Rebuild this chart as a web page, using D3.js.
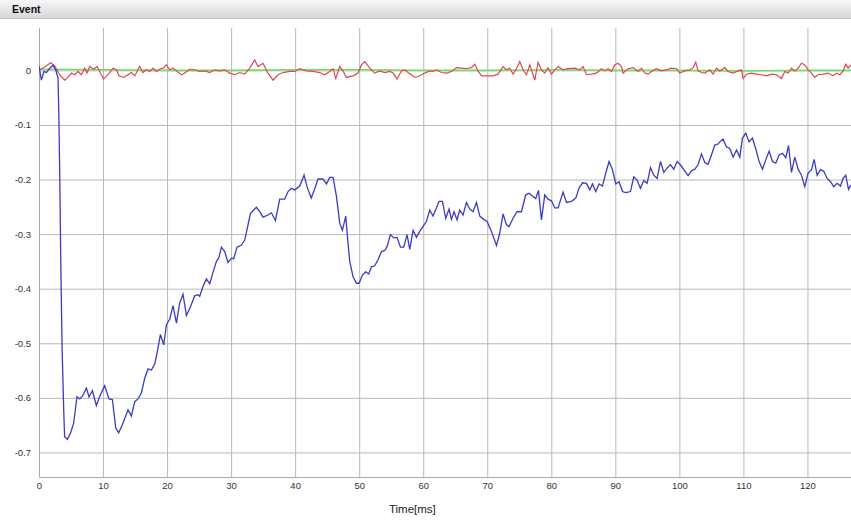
<!DOCTYPE html>
<html>
<head>
<meta charset="utf-8">
<script src="https://cdn.jsdelivr.net/npm/d3@7"></script>
<style>
  body { margin: 0; background: #fff; }
  svg { display: block; font-family: "Liberation Sans", Arial, sans-serif; }
</style>
</head>
<body>
<script>
// Tick values
var xTicks = [0, 10, 20, 30, 40, 50, 60, 70, 80, 90, 100, 110, 120];
var yTicks = [0, -0.1, -0.2, -0.3, -0.4, -0.5, -0.6, -0.7];

// Blue trace: [time ms, value]
var blueSeries = [
  [0, 0.008], [0.37, -0.018], [0.78, -0.002], [1.16, -0.004], [1.67, 0.004], [2.19, 0.009], [2.61, 0.001],
  [2.97, -0.014], [3.1, -0.08], [3.25, -0.2], [3.4, -0.35], [3.6, -0.506], [3.87, -0.627], [4.0, -0.671],
  [4.43, -0.676], [4.95, -0.664], [5.42, -0.646], [5.93, -0.598], [6.36, -0.602], [6.78, -0.597], [7.4, -0.582],
  [7.81, -0.598], [8.34, -0.587], [8.96, -0.614], [9.48, -0.597], [10.26, -0.578], [10.93, -0.602], [11.46, -0.603],
  [11.98, -0.655], [12.45, -0.664], [13.03, -0.649], [13.9, -0.622], [14.43, -0.633], [14.95, -0.607], [15.46, -0.602],
  [15.99, -0.591], [16.51, -0.564], [17.02, -0.547], [17.55, -0.549], [18.07, -0.538], [18.43, -0.518], [18.96, -0.484],
  [19.48, -0.503], [19.9, -0.466], [20.41, -0.456], [20.93, -0.431], [21.46, -0.463], [21.97, -0.426], [22.49, -0.41],
  [23.02, -0.449], [23.65, -0.433], [24.32, -0.413], [24.83, -0.411], [25.1, -0.414], [25.61, -0.396], [26.14, -0.382],
  [26.66, -0.391], [27.17, -0.37], [27.71, -0.35], [28.06, -0.344], [28.49, -0.324], [29.0, -0.332], [29.52, -0.352],
  [30.05, -0.344], [30.41, -0.345], [30.92, -0.324], [31.61, -0.32], [32.13, -0.311], [32.64, -0.283], [33.02, -0.262],
  [33.95, -0.251], [34.47, -0.259], [34.98, -0.269], [35.76, -0.265], [36.3, -0.261], [36.92, -0.275], [37.59, -0.236],
  [38.37, -0.236], [38.89, -0.222], [39.42, -0.216], [39.93, -0.219], [40.72, -0.212], [41.39, -0.192], [41.86, -0.213],
  [42.51, -0.234], [43.06, -0.217], [43.57, -0.199], [44.35, -0.199], [44.89, -0.208], [45.4, -0.196], [45.92, -0.196],
  [46.45, -0.231], [46.96, -0.28], [47.38, -0.293], [47.9, -0.267], [48.26, -0.317], [48.52, -0.35], [49.04, -0.378],
  [49.57, -0.39], [49.98, -0.39], [50.51, -0.375], [51.02, -0.369], [51.49, -0.373], [51.91, -0.36], [52.43, -0.358],
  [52.94, -0.347], [53.48, -0.332], [53.99, -0.33], [54.35, -0.323], [54.88, -0.301], [55.4, -0.307], [55.91, -0.306],
  [56.44, -0.324], [56.96, -0.324], [57.47, -0.301], [57.9, -0.328], [58.41, -0.293], [58.94, -0.306], [59.46, -0.295],
  [60.08, -0.284], [60.5, -0.277], [61.02, -0.256], [61.53, -0.267], [62.06, -0.252], [62.47, -0.24], [63.0, -0.24],
  [63.52, -0.271], [64.03, -0.254], [64.41, -0.273], [64.81, -0.259], [65.28, -0.274], [65.7, -0.256], [66.22, -0.265],
  [66.75, -0.242], [67.26, -0.254], [67.78, -0.259], [68.31, -0.242], [68.83, -0.267], [69.45, -0.273], [69.97, -0.277],
  [70.65, -0.295], [71.44, -0.321], [71.95, -0.298], [72.47, -0.263], [73.0, -0.283], [73.4, -0.286], [74.03, -0.271],
  [74.65, -0.259], [75.34, -0.259], [76.01, -0.228], [76.53, -0.225], [77.15, -0.231], [77.57, -0.235], [78.0, -0.22],
  [78.46, -0.274], [78.98, -0.228], [79.49, -0.236], [80.02, -0.239], [80.54, -0.252], [81.06, -0.252], [81.84, -0.223],
  [82.37, -0.242], [83.15, -0.24], [83.82, -0.234], [84.33, -0.216], [84.87, -0.206], [85.49, -0.207], [86.01, -0.219],
  [86.43, -0.208], [86.94, -0.222], [87.46, -0.208], [87.99, -0.212], [88.51, -0.188], [89.02, -0.167], [89.55, -0.182],
  [90.07, -0.208], [90.58, -0.204], [91.11, -0.222], [91.63, -0.224], [92.36, -0.222], [92.88, -0.195], [93.39, -0.201],
  [93.92, -0.216], [94.44, -0.202], [94.96, -0.207], [95.49, -0.178], [96.0, -0.192], [96.52, -0.198], [97.05, -0.167],
  [97.57, -0.187], [98.08, -0.179], [98.61, -0.173], [99.13, -0.181], [99.64, -0.167], [100.17, -0.173], [100.69, -0.182],
  [101.36, -0.193], [101.89, -0.184], [102.41, -0.181], [102.92, -0.173], [103.45, -0.153], [103.97, -0.169], [104.48, -0.172],
  [105.01, -0.155], [105.53, -0.137], [106.04, -0.135], [106.31, -0.131], [106.82, -0.126], [107.35, -0.14], [107.87, -0.143],
  [108.39, -0.159], [108.92, -0.146], [109.43, -0.159], [109.85, -0.124], [110.37, -0.115], [110.88, -0.131], [111.41, -0.124],
  [111.93, -0.144], [112.45, -0.167], [112.98, -0.181], [113.49, -0.164], [114.01, -0.148], [114.54, -0.167], [115.06, -0.17],
  [115.57, -0.155], [116.1, -0.152], [116.62, -0.16], [117.04, -0.138], [117.51, -0.187], [118.02, -0.159], [118.54, -0.181],
  [119.07, -0.192], [119.58, -0.213], [120.1, -0.188], [120.63, -0.182], [121.04, -0.163], [121.51, -0.192], [122.04, -0.182],
  [122.55, -0.185], [123.07, -0.198], [123.6, -0.204], [124.11, -0.213], [124.63, -0.207], [125.16, -0.212], [125.57, -0.198],
  [125.98, -0.192], [126.41, -0.218], [126.77, -0.21]
];

// Red trace: [time ms, value]
var redSeries = [
  [0, 0.001], [0.89, 0.006], [1.82, 0.014], [2.45, 0.008], [3.23, -0.008], [4.01, -0.018], [4.53, -0.013],
  [5.06, -0.005], [5.58, -0.008], [6.09, -0.002], [6.62, -0.008], [7.14, 0.004], [7.5, -0.005], [7.92, 0.007],
  [8.54, 0.002], [9.06, 0.007], [9.48, -0.002], [10.1, -0.016], [10.78, -0.008], [11.56, 0.004], [12.09, 0.001],
  [12.49, -0.01], [13.23, -0.013], [13.9, -0.008], [14.43, -0.004], [14.95, -0.01], [15.73, 0.007], [16.24, -0.004],
  [16.77, 0.001], [17.29, -0.002], [17.8, 0.004], [18.34, -0.002], [18.85, 0.002], [19.37, 0.004], [19.9, 0.01],
  [20.41, 0.001], [20.93, 0.004], [21.46, -0.001], [22.24, -0.008], [22.76, -0.005], [23.54, 0.002], [24.32, 0.001],
  [25.1, -0.002], [25.88, -0.001], [26.66, -0.004], [27.44, 0.001], [28.22, -0.001], [29.0, 0.001], [29.78, -0.005],
  [30.56, -0.008], [31.35, -0.004], [32.13, -0.007], [32.91, 0.004], [33.69, 0.019], [34.2, 0.007], [34.98, 0.013],
  [35.76, -0.005], [36.55, -0.018], [37.33, -0.008], [38.11, -0.004], [39.16, -0.002], [39.94, -0.002], [40.72, 0.003],
  [41.76, -0.001], [42.79, -0.002], [43.84, -0.004], [44.62, -0.008], [45.4, -0.002], [45.92, 0.003], [46.34, -0.015],
  [46.96, 0.007], [47.48, -0.001], [48.01, -0.013], [49.04, -0.01], [49.82, -0.005], [50.35, 0.01], [50.87, 0.016],
  [51.65, 0.004], [52.43, -0.005], [53.21, -0.001], [53.99, -0.004], [54.77, -0.002], [55.29, -0.005], [55.91, -0.016],
  [56.6, -0.001], [57.11, 0.001], [57.63, -0.004], [58.16, -0.008], [58.68, -0.013], [59.46, -0.01], [60.24, -0.005],
  [61.02, -0.001], [61.53, -0.002], [62.06, 0.001], [62.84, -0.004], [63.63, -0.005], [64.41, -0.002], [65.19, 0.005],
  [65.97, 0.004], [66.75, 0.003], [67.53, 0.005], [68.05, 0.011], [68.56, -0.001], [69.09, -0.01], [69.87, -0.01],
  [70.9, -0.01], [71.69, -0.007], [72.47, 0.007], [73.0, 0.001], [73.51, 0.004], [74.03, -0.007], [74.56, 0.003],
  [75.07, 0.016], [75.59, 0.001], [76.12, -0.008], [76.64, 0.01], [77.42, -0.018], [77.93, 0.015], [78.46, 0.001],
  [78.98, -0.005], [79.49, 0.005], [80.02, -0.007], [80.54, 0.001], [81.06, 0.007], [81.84, 0.001], [82.62, 0.003],
  [83.66, 0.004], [84.44, 0.001], [84.96, 0.007], [85.49, -0.008], [86.27, -0.007], [87.05, -0.005], [87.83, 0.003],
  [88.35, -0.001], [88.86, 0.003], [89.4, -0.002], [89.91, 0.01], [90.43, 0.013], [90.96, 0.007], [91.21, -0.005],
  [91.99, 0.003], [92.77, 0.005], [93.55, -0.002], [94.08, 0.004], [94.6, -0.005], [95.11, -0.007], [95.64, -0.002],
  [96.42, 0.003], [97.2, -0.001], [97.98, 0.001], [98.77, 0.004], [99.55, 0.003], [100.06, -0.005], [100.84, -0.001],
  [101.63, 0.001], [102.14, 0.005], [102.56, 0.015], [102.92, -0.001], [103.45, -0.004], [103.97, -0.005], [104.75, 0.001],
  [105.26, -0.007], [105.79, 0.004], [106.31, -0.001], [107.09, 0.005], [107.61, -0.002], [108.39, -0.005], [109.17, -0.001],
  [109.7, 0.001], [109.95, -0.015], [110.48, -0.007], [111.26, -0.005], [112.04, -0.007], [112.82, -0.008], [113.6, -0.01],
  [114.38, -0.007], [115.16, -0.008], [115.94, -0.015], [116.46, -0.002], [116.98, -0.005], [117.51, 0.004], [118.02, -0.001],
  [118.54, 0.004], [119.07, 0.013], [119.58, 0.01], [120.1, 0.001], [120.63, -0.005], [121.15, -0.013], [121.66, -0.008],
  [122.44, -0.007], [123.22, -0.005], [124.0, -0.01], [124.54, -0.005], [125.05, -0.008], [125.57, -0.001], [125.99, 0.011],
  [126.35, 0.004], [126.77, 0.01]
];

// Green trace, one sample per 10 ms
var greenStep = 10;
var greenValues = [0.002, 0.001, 0.0, 0.0, 0.001, 0.001, 0.0, 0.0, 0.001, 0.0, 0.0, -0.001, 0.0, 0.0];

var width = 851;
var height = 524;
var margin = { top: 28, right: 0, bottom: 47, left: 39 };

var svg = d3.select("body").append("svg")
  .attr("width", width)
  .attr("height", height);

// Header bar
var grad = svg.append("defs").append("linearGradient")
  .attr("id", "hdr").attr("x1", 0).attr("x2", 0).attr("y1", 0).attr("y2", 1);
grad.append("stop").attr("offset", "0%").attr("stop-color", "#f7f7f7");
grad.append("stop").attr("offset", "100%").attr("stop-color", "#d8d8d8");
svg.append("rect").attr("x", 0).attr("y", 0).attr("width", width).attr("height", 18)
  .attr("fill", "url(#hdr)");
svg.append("line").attr("x1", 0).attr("x2", width).attr("y1", 18.5).attr("y2", 18.5)
  .attr("stroke", "#c4c4c4");
svg.append("text").attr("x", 12).attr("y", 13)
  .attr("font-size", "10.5px").attr("font-weight", "bold").attr("fill", "#111")
  .text("Event");

var chartWidth = width - margin.left - margin.right;
var chartHeight = height - margin.top - margin.bottom;

var g = svg.append("g").attr("transform", `translate(${margin.left}, ${margin.top})`);

var xScale = d3.scaleLinear().domain([0, 126.8]).range([0, chartWidth]);
var yScale = d3.scaleLinear().domain([-0.745, 0.0776]).range([chartHeight, 0]);

// x axis with vertical gridlines
var xAxis = g.append("g")
  .attr("transform", `translate(0, ${chartHeight})`)
  .call(d3.axisBottom(xScale).tickValues(xTicks).tickSizeInner(-chartHeight).tickSizeOuter(0).tickPadding(5));

// y axis with horizontal gridlines
var yAxis = g.append("g")
  .call(d3.axisLeft(yScale).tickValues(yTicks).tickSizeInner(-chartWidth).tickSizeOuter(0).tickPadding(8)
    .tickFormat((d) => (d === 0 ? "0" : d.toFixed(1))));

[xAxis, yAxis].forEach((ax) => {
  ax.select(".domain").attr("stroke", "#a8a8a8");
  ax.selectAll(".tick line").attr("stroke", "#b8b8b8");
  ax.selectAll(".tick text").attr("fill", "#333").attr("font-size", "9.5px")
    .attr("font-family", "'Liberation Sans', Arial, sans-serif");
});

// Axis title
g.append("text")
  .attr("x", xScale(58.3))
  .attr("y", chartHeight + 36)
  .attr("text-anchor", "middle")
  .attr("font-size", "11.5px")
  .attr("fill", "#222")
  .text("Time[ms]");

g.append("clipPath").attr("id", "plot")
  .append("rect").attr("width", chartWidth).attr("height", chartHeight);

var line = d3.line()
  .x((d) => xScale(d[0]))
  .y((d) => yScale(d[1]));

var greenData = greenValues.map((v, i) => [i * greenStep, v]);

var plot = g.append("g").attr("clip-path", "url(#plot)");

plot.append("path").datum(greenData).attr("d", line)
  .attr("fill", "none").attr("stroke", "#6ee06e").attr("stroke-width", 1.6);
plot.append("path").datum(redSeries).attr("d", line)
  .attr("fill", "none").attr("stroke", "#e0474f").attr("stroke-width", 1.2);
plot.append("path").datum(blueSeries).attr("d", line)
  .attr("fill", "none").attr("stroke", "#3b3bc4").attr("stroke-width", 1.3);
</script>
</body>
</html>
